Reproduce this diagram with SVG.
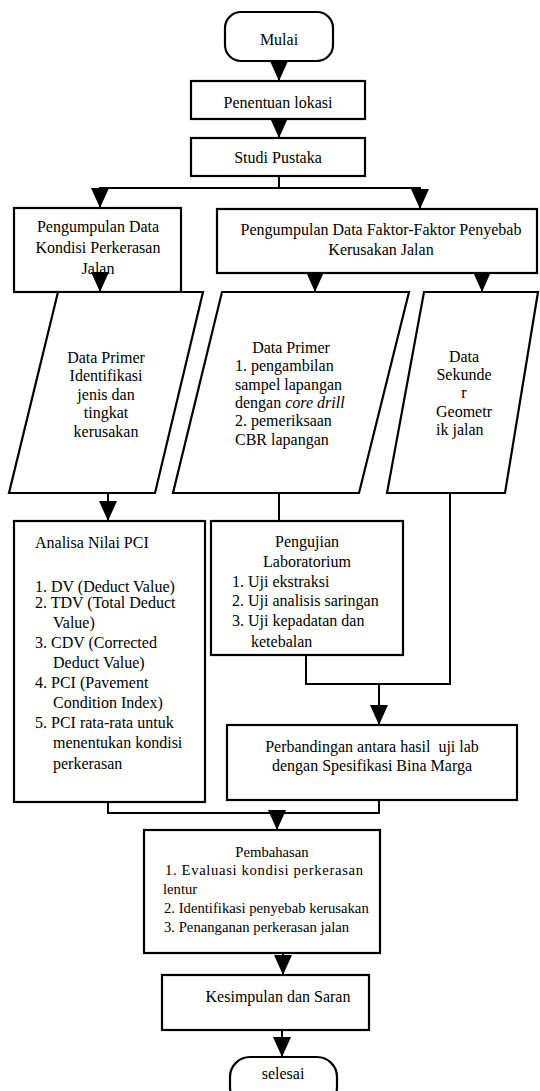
<svg xmlns="http://www.w3.org/2000/svg" width="540" height="1091" viewBox="0 0 540 1091">
<defs>
<marker id="arr" markerUnits="userSpaceOnUse" markerWidth="20" markerHeight="18" viewBox="0 0 20 18" refX="20" refY="9" orient="auto">
<path d="M0,0 L20,9 L0,18 Z" fill="#000"/>
</marker>
<style>
.box{fill:#fff;stroke:#000;stroke-width:2.2}
.ln{fill:none;stroke:#000;stroke-width:2}
.ar{fill:none;stroke:#000;stroke-width:2;marker-end:url(#arr)}
text{font-family:"Liberation Serif","Times New Roman",serif;font-size:16px;fill:#000}
.c{text-anchor:middle}
.s{font-size:14.7px}
</style>
</defs>
<rect width="540" height="1091" fill="#fff"/>
<g id="n-mulai"><rect class="box" x="225" y="12" width="108" height="49" rx="16"/><text class="c" x="279" y="45">Mulai</text></g>
<g id="n-lokasi"><rect class="box" x="191" y="81" width="174" height="38"/><text class="c" x="278" y="108">Penentuan lokasi</text></g>
<g id="n-studi"><rect class="box" x="191" y="138" width="174" height="38"/><text class="c" x="278" y="163">Studi Pustaka</text></g>
<g id="n-kondisi"><rect class="box" x="14" y="208" width="167" height="84"/><text class="c" x="98" y="232">Pengumpulan Data</text><text class="c" x="98" y="253">Kondisi Perkerasan</text><text class="c" x="98" y="274">Jalan</text></g>
<g id="n-faktor"><rect class="box" x="217" y="209" width="320" height="64"/><text class="c" x="381" y="235">Pengumpulan Data Faktor-Faktor Penyebab</text><text class="c" x="381" y="255">Kerusakan Jalan</text></g>
<g id="n-primer1"><polygon class="box" points="58,292 203,292 155,493 9,493"/><text class="c" x="106" y="363">Data Primer</text><text class="c" x="106" y="381">Identifikasi</text><text class="c" x="106" y="400">jenis dan</text><text class="c" x="106" y="418">tingkat</text><text class="c" x="106" y="437">kerusakan</text></g>
<g id="n-primer2"><polygon class="box" points="222,292 409,292 359,493 173,493"/><text class="c" x="291" y="353">Data Primer</text><text x="235" y="371">1. pengambilan</text><text x="235" y="390">sampel lapangan</text><text x="235" y="408">dengan <tspan font-style="italic">core drill</tspan></text><text x="235" y="426">2. pemeriksaan</text><text x="235" y="445">CBR lapangan</text></g>
<g id="n-sekunder"><polygon class="box" points="424,292 538,292 505,493 387,493"/><text class="c" x="464" y="362">Data</text><text class="c" x="464" y="380">Sekunde</text><text class="c" x="464" y="398">r</text><text class="c" x="464" y="417">Geometr</text><text x="436" y="435">ik jalan</text></g>
<g id="n-pci"><rect class="box" x="14" y="521" width="191" height="281"/><text x="35" y="548">Analisa Nilai PCI</text><text x="35" y="592">1. DV (Deduct Value)</text><text x="35" y="608">2. TDV (Total Deduct</text><text x="53" y="628">Value)</text><text x="35" y="648">3. CDV (Corrected</text><text x="53" y="668">Deduct Value)</text><text x="35" y="688">4. PCI (Pavement</text><text x="53" y="708">Condition Index)</text><text x="35" y="728">5. PCI rata-rata untuk</text><text x="53" y="748">menentukan kondisi</text><text x="53" y="769">perkerasan</text></g>
<g id="n-lab"><rect class="box" x="211" y="521" width="192" height="134"/><text class="c" x="307" y="547">Pengujian</text><text class="c" x="307" y="567">Laboratorium</text><text x="232" y="587">1. Uji ekstraksi</text><text x="232" y="606">2. Uji analisis saringan</text><text x="232" y="626">3. Uji kepadatan dan</text><text x="251" y="647">ketebalan</text></g>
<g id="n-banding"><rect class="box" x="227" y="725" width="290" height="75"/><text class="c" x="372" y="752" xml:space="preserve">Perbandingan antara hasil  uji lab</text><text class="c" x="372" y="771">dengan Spesifikasi Bina Marga</text></g>
<g id="n-bahas"><rect class="box" x="144" y="830" width="236" height="123"/><text class="c s" x="272" y="857">Pembahasan</text><text class="s" x="165" y="875" textLength="198" lengthAdjust="spacing">1. Evaluasi kondisi perkerasan</text><text class="s" x="163" y="894">lentur</text><text class="s" x="164" y="913">2. Identifikasi penyebab kerusakan</text><text class="s" x="164" y="932">3. Penanganan perkerasan jalan</text></g>
<g id="n-simpul"><rect class="box" x="162" y="975" width="207" height="55"/><text class="c" x="278" y="1002">Kesimpulan dan Saran</text></g>
<g id="n-selesai"><rect class="box" x="230" y="1057" width="107" height="50" rx="20"/><text class="c" x="283" y="1079">selesai</text></g>
<g id="connectors">
<line class="ar" x1="279" y1="61" x2="279" y2="81"/>
<line class="ar" x1="279" y1="119" x2="279" y2="138"/>
<line class="ln" x1="279" y1="176" x2="279" y2="188"/>
<line class="ln" x1="99" y1="188" x2="421" y2="188"/>
<line class="ar" x1="100" y1="187" x2="100" y2="208"/>
<line class="ar" x1="420" y1="187" x2="420" y2="209"/>
<line class="ar" x1="100" y1="272" x2="100" y2="292"/>
<line class="ar" x1="315" y1="273" x2="315" y2="292"/>
<line class="ar" x1="482" y1="273" x2="482" y2="292"/>
<line class="ar" x1="108" y1="493" x2="108" y2="521"/>
<line class="ln" x1="279" y1="493" x2="279" y2="521"/>
<polyline class="ln" points="306,655 306,684 450,684 450,493"/>
<line class="ar" x1="379" y1="684" x2="379" y2="725"/>
<polyline class="ln" points="108,802 108,813 379,813 379,800"/>
<line class="ar" x1="277" y1="813" x2="277" y2="830"/>
<line class="ar" x1="283" y1="953" x2="283" y2="975"/>
<line class="ar" x1="282" y1="1030" x2="282" y2="1057"/>
</g>
</svg>
